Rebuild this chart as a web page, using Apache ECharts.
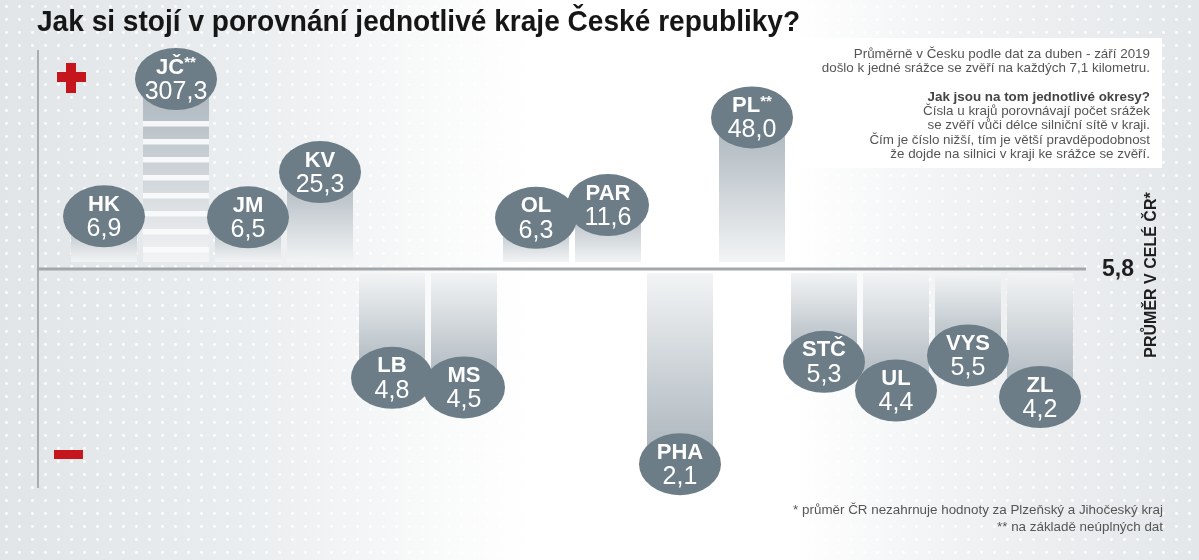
<!DOCTYPE html>
<html><head><meta charset="utf-8">
<script src="https://cdn.jsdelivr.net/npm/echarts@6/dist/echarts.min.js"></script>
<style>html,body{margin:0;padding:0;background:#fff}#c{width:1199px;height:560px}</style>
</head><body><div id="c"></div>
<script>
// ---- data ----
const regions = ['HK','JČ','JM','KV','LB','MS','OL','PAR','PHA','PL','STČ','UL','VYS','ZL'];
const values  = [6.9, 307.3, 6.5, 25.3, 4.8, 4.5, 6.3, 11.6, 2.1, 48.0, 5.3, 4.4, 5.5, 4.2];
const incomplete = ['JČ','PL'];
const average = 5.8;
const titleText = 'Jak si stojí v porovnání jednotlivé kraje České republiky?';
const noteLines = [
  'Průměrně v Česku podle dat za duben - září 2019',
  'došlo k jedné srážce se zvěří na každých 7,1 kilometru.',
  '',
  'Jak jsou na tom jednotlivé okresy?',
  'Čísla u krajů porovnávají počet srážek',
  'se zvěří vůči délce silniční sítě v kraji.',
  'Čím je číslo nižší, tím je větší pravděpodobnost',
  'že dojde na silnici v kraji ke srážce se zvěří.'
];
const footnotes = [
  '* průměr ČR nezahrnuje hodnoty za Plzeňský a Jihočeský kraj',
  '** na základě neúplných dat'
];
const avgLabel = 'PRŮMĚR V CELÉ ČR*';

// ---- axis ranges (hidden scales) ----
const UP_MIN = -15, UP_MAX = 64;
const DOWN_MIN = 2, DOWN_MAX = 8.2;

const FONT = '"Liberation Sans", Arial, Helvetica, sans-serif';
const BUBBLE = '#6c7d87';
const BAR_DARK = '#a9b3bb';
const BAR_LIGHT = '#f2f4f5';
const BAR_W = 66;

function fmt(v){ return v.toFixed(1).replace('.', ','); }

const upData = [], downData = [];
regions.forEach((r,i)=>{ (values[i] > average ? upData : downData).push([r, values[i]]); });

function bubble(cx, cy, name, v){
  const star = incomplete.indexOf(name) >= 0;
  return {
    type:'group', x:cx, y:cy,
    children:[
      {type:'circle', shape:{cx:0, cy:0, r:41}, scaleY:31/41, style:{fill:BUBBLE}, z2:10},
      {type:'text', z2:11, style:{
        text:'{c|' + name + '}' + (star ? '{s|**}' : '') + '\n{v|' + fmt(v) + '}',
        x:0, y:1, align:'center', verticalAlign:'middle', fill:'#fff',
        rich:{
          c:{fontFamily:FONT, fontWeight:'bold', fontSize:22, lineHeight:24, fill:'#fff'},
          s:{fontFamily:FONT, fontWeight:'bold', fontSize:15, lineHeight:10, verticalAlign:'top', fill:'#fff'},
          v:{fontFamily:FONT, fontSize:25, lineHeight:25, fill:'#fff'}
        }
      }}
    ]
  };
}

function renderUp(params, api){
  const idx = api.value(0), v = api.value(1);
  const name = regions[idx];
  const base = api.coord([idx, UP_MIN]);
  const end = api.coord([idx, Math.min(v, UP_MAX)]);
  const x = base[0], top = end[1], bottom = base[1] - 7;
  const children = [{
    type:'rect', z2:1,
    shape:{x:x - BAR_W/2, y:top, width:BAR_W, height:bottom - top},
    style:{fill:new echarts.graphic.LinearGradient(0,0,0,1,[{offset:0,color:BAR_DARK},{offset:1,color:BAR_LIGHT}])}
  }];
  if (v > UP_MAX) { // broken bar: value beyond the scale
    for (let g = top + 42; g < bottom - 3; g += 18) {
      children.push({type:'rect', z2:2, shape:{x:x - BAR_W/2, y:g, width:BAR_W, height:5.5},
        style:{fill:'rgba(249,250,251,0.95)'}});
    }
  }
  children.push(bubble(x, top, name, v));
  return {type:'group', children};
}

function renderDown(params, api){
  const idx = api.value(0), v = api.value(1);
  const name = regions[idx];
  const base = api.coord([idx, DOWN_MAX]);
  const end = api.coord([idx, Math.max(v, DOWN_MIN)]);
  const x = base[0], top = base[1] + 4, bottom = end[1];
  return {type:'group', children:[
    {type:'rect', z2:1, shape:{x:x - BAR_W/2, y:top, width:BAR_W, height:bottom - top},
     style:{fill:new echarts.graphic.LinearGradient(0,0,0,1,[{offset:0,color:BAR_LIGHT},{offset:1,color:BAR_DARK}])}},
    bubble(x, bottom, name, v)
  ]};
}

// dot pattern
const pc = document.createElement('canvas');
pc.width = 13; pc.height = 13;
const pctx = pc.getContext('2d');
pctx.fillStyle = 'rgba(255,255,255,0.95)';
pctx.beginPath(); pctx.arc(6.5, 6.5, 1.4, 0, Math.PI*2); pctx.fill();

const noteRich = {
  n:{fontFamily:FONT, fontSize:13.4, lineHeight:14.3, fill:'#555', align:'right'},
  b:{fontFamily:FONT, fontSize:13.4, lineHeight:14.3, fill:'#444', fontWeight:'bold', align:'right'}
};
const noteText = noteLines.map((l,i)=> (i === 3 ? '{b|' : '{n|') + (l || ' ') + '}').join('\n');

const chart = echarts.init(document.getElementById('c'), null, {renderer:'canvas'});
chart.setOption({
  animation:false,
  backgroundColor:'#fff',
  grid:[
    {left:68, width:1008, top:79, height:190},
    {left:68, width:1008, top:269, height:198.4}
  ],
  xAxis:[
    {gridIndex:0, type:'category', data:regions, show:false},
    {gridIndex:1, type:'category', data:regions, show:false}
  ],
  yAxis:[
    {gridIndex:0, type:'value', min:UP_MIN, max:UP_MAX, show:false},
    {gridIndex:1, type:'value', min:DOWN_MIN, max:DOWN_MAX, show:false}
  ],
  series:[
    {type:'custom', name:'nad průměrem', xAxisIndex:0, yAxisIndex:0, data:upData, encode:{x:0,y:1}, renderItem:renderUp, z:5},
    {type:'custom', name:'pod průměrem', xAxisIndex:1, yAxisIndex:1, data:downData, encode:{x:0,y:1}, renderItem:renderDown, z:5}
  ],
  graphic:[
    {type:'rect', z:-10, silent:true, shape:{x:0,y:0,width:1199,height:560},
     style:{fill:new echarts.graphic.LinearGradient(0,0,1,0,[
       {offset:0,color:'#e2e5e8'},{offset:0.2,color:'#eaedef'},{offset:0.36,color:'#f9fafa'},
       {offset:0.45,color:'#ffffff'},{offset:0.66,color:'#ffffff'},{offset:0.8,color:'#f0f2f3'},
       {offset:1,color:'#e4e7ea'}])}},
    {type:'rect', z:-9, silent:true, shape:{x:0,y:0,width:1199,height:560},
     style:{fill:{image:pc, repeat:'repeat'}}},
    {type:'rect', z:-8, silent:true, shape:{x:780,y:38,width:382,height:130}, style:{fill:'#ffffff'}},
    // axis frame
    {type:'line', z:1, shape:{x1:38,y1:50,x2:38,y2:488}, style:{stroke:'#a9adb0', lineWidth:2}},
    {type:'line', z:1, shape:{x1:37,y1:269,x2:1086,y2:269}, style:{stroke:'#a3a7aa', lineWidth:3}},
    // plus / minus
    {type:'rect', z:1, shape:{x:57,y:72,width:29,height:10}, style:{fill:'#c5161d'}},
    {type:'rect', z:1, shape:{x:66,y:63,width:10,height:30}, style:{fill:'#c5161d'}},
    {type:'rect', z:1, shape:{x:54,y:450,width:29,height:9}, style:{fill:'#c5161d'}},
    // title
    {type:'text', z:10, x:37, y:23, scaleX:0.936, style:{text:titleText, fill:'#161616',
      font:'bold 30px "Liberation Sans Narrow", "Liberation Sans", Arial, sans-serif', verticalAlign:'middle'}},
    // notes
    {type:'text', z:10, x:1150, y:47, style:{text:noteText, align:'right', verticalAlign:'top', rich:noteRich}},
    // average label
    {type:'text', z:10, x:1102, y:270, style:{text:fmt(average), fill:'#1e1e1e',
      font:'bold 23px ' + FONT, verticalAlign:'middle', align:'left'}},
    {type:'text', z:10, x:1152, y:275, rotation:Math.PI/2, style:{text:avgLabel, fill:'#1e1e1e',
      font:'bold 16px ' + FONT, verticalAlign:'middle', align:'center'}},
    // footnotes
    {type:'text', z:10, x:1163, y:510, style:{text:footnotes[0], fill:'#555', font:'13.4px ' + FONT, align:'right', verticalAlign:'middle'}},
    {type:'text', z:10, x:1163, y:527, style:{text:footnotes[1], fill:'#555', font:'13.4px ' + FONT, align:'right', verticalAlign:'middle'}}
  ]
});
</script>
</body></html>
